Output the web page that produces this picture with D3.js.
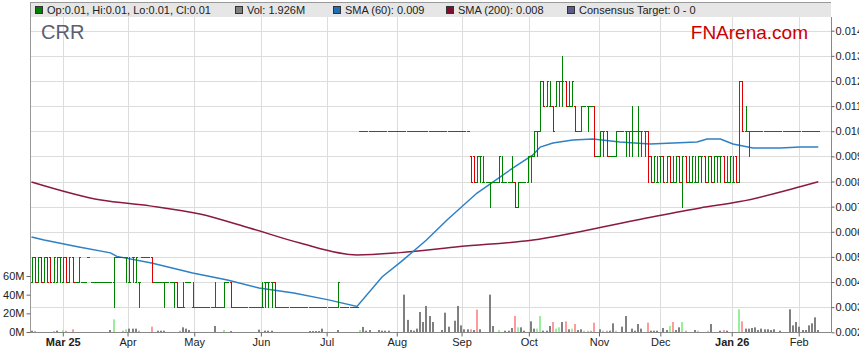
<!DOCTYPE html>
<html>
<head>
<meta charset="utf-8">
<script src="https://cdn.jsdelivr.net/npm/d3@7"></script>
<style>
body { margin: 0; background: #fff; }
text { font-family: Arial, "Liberation Sans", sans-serif; }
</style>
</head>
<body>
<div id="chart"></div>
<script>
// daily bars, one token per trading day: Open High Low Close in 0.001 units (hex digit)
var ohlc = (
  "4545 5544 4545 5544 4545 5544 5544 4545 4545 5545 " +
  "4545 5544 4545 5544 4444 4545 4444 4444 5555 4444 " +
  "4444 4444 4444 4444 4444 4444 4535 5555 5555 5555 " +
  "5545 4544 5545 4545 4434 5555 5555 5555 5544 4444 " +
  "4444 4444 4434 4444 4444 4434 4433 3333 3433 4444 " +
  "4444 3433 3333 3333 3333 3333 3333 3333 3433 3333 " +
  "3333 3434 4444 4433 3333 3333 3333 3333 3333 3333 " +
  "3333 3333 3333 3433 4434 4434 4434 4433 3333 3333 " +
  "3333 3333 3333 3333 3333 3333 3333 3333 3333 3333 " +
  "3333 3333 3333 3333 3333 3333 3333 3434 3333 3333 " +
  "3333 3333 3333 3333 AAAA AAAA AAAA AAAA AAAA AAAA " +
  "AAAA AAAA AAAA AAAA AAAA AAAA AAAA AAAA AAAA AAAA " +
  "AAAA AAAA AAAA AAAA AAAA AAAA AAAA AAAA AAAA AAAA " +
  "AAAA AAAA AAAA AAAA AAAA AAAA AAAA AAAA AAAA 9988 " +
  "9988 8989 9989 8988 8888 8878 8888 8888 8989 8988 " +
  "8888 8888 8988 8877 7878 8888 8888 8989 9989 9A9A " +
  "AA9A ACAC CCBB BCBC BCBB BBAA BCBC CCBC CDBC CCBB " +
  "BCBB BCBC BBAA AAAA ABAB BBBB BBAB BBBB BB99 9999 " +
  "9A9A AA9A AA99 9999 9999 9A9A AAAA AAAA AA9A AA9A " +
  "AB9A AAAA AB9A AA9A AA9A AA89 9988 8989 8988 9989 " +
  "9988 8989 9988 8988 8989 9988 8979 9988 8988 8989 " +
  "8988 8989 9989 9988 8989 9988 8989 9989 9989 9988 " +
  "8988 8989 8988 9988 8C8C CCAA ABAA AA9A AAAA AAAA " +
  "AAAA AAAA AAAA AAAA AAAA AAAA AAAA AAAA AAAA AAAA " +
  "AAAA AAAA AAAA AAAA AAAA AAAA AAAA AAAA AAAA AAAA"
).split(" ");

// volume in millions per day
var volume = [
  1.4,1.1,0,0,0,0,0,1.1,1.4,0,
  2.1,1.4,0,2.9,0,0,0,0,0,0,
  0,0,0,0,0,2.1,13.6,0,0,1.4,
  2.9,3.6,3.6,3.6,1.4,0,0,0,5.7,0,
  1.4,1.4,1.4,0,0,0,0,1.4,5,3.6,
  2.1,0,0,0,0,0,0,0,6.4,0,
  0,2.1,0,1,0,0,0,0,0,0,
  0,0,2.5,0,1.4,1.4,1.4,0,0,0,
  0,0,0,0,0,0,0,0,1,1,
  1,1,3.6,0,0,0,0,2.1,0,0,
  0,0,0,0,2.1,5.4,1.4,2.1,0,0,
  2.1,1.4,1.4,1.4,0,0,0,0,40,13,
  2.1,1.4,3.6,21.4,10.7,27.9,17.1,10.7,0,0,
  2.1,20.7,5.7,0,12.1,27.9,7.1,2.9,2.9,2.9,
  2.1,24,2.9,0,0,40,6.4,0,2.1,0,
  1.4,1.4,4.3,17.1,5,5,1.4,0,11.4,3.6,
  3.6,17.1,1.4,1.4,6.4,10.7,3.6,5,10.7,11.4,
  2.9,3.6,8.6,2.1,2.9,1.4,1.4,1.4,10,0,
  2.9,1.4,1.4,1.4,9.3,1.4,0,5.7,17.1,0,
  3.6,1.4,8.6,3.6,0,10,1.4,1.4,1.4,0,
  4.3,2.1,6.4,10.7,2.1,5,10.7,1.4,0,0,
  2.1,1.4,0,0,1.4,8.6,0,0,1.4,2.1,
  1.4,0,0,0,24.3,11.4,3.6,3.6,4.3,5,
  2.1,3.6,2.9,2.9,2.1,2.9,0,1.4,0,0,
  24.3,7.1,10.7,5.7,2.1,2.1,7.1,9.3,15.7,2.1
];

// volume bar tone per day: g = up, r = down, . = unchanged
var volumeTone = (
  ".r.....g.. gr.r...... ......g..r g...r...r. .......r.. " +
  ".......... .g........ .......... .......... .......... " +
  "....g..... .......... .......... .........r .r......g. " +
  "...rg..... gg...rgg.r .gr..ggrr. .gr..g.... .....r.... " +
  "..gr..gr.. .g..g....r ....gr.... .......... .........."
).replace(/ /g, "");

// moving averages: [day index, value]
var sma60 = [[0,0.00579],[4,0.00567],[15,0.00539],[25,0.00516],[27,0.00502],[38,0.00476],
  [51,0.00436],[62,0.00408],[72,0.00376],[83,0.00356],[94,0.00329],[103,0.00303],
  [111,0.00421],[117,0.00481],[125,0.00567],[131.5,0.00647],[141,0.00754],[152.4,0.00854],
  [158.7,0.00906],[161,0.00937],[165,0.00953],[171.3,0.00965],[177.7,0.00969],[186.2,0.00957],
  [195.7,0.00949],[210.6,0.00957],[213.8,0.00969],[218,0.00969],[222,0.00949],[228.3,0.00933],
  [237,0.00933],[243.2,0.00937],[249,0.00937]];
var sma200 = [[0,0.00798],[22,0.00726],[37.5,0.00703],[53.3,0.00671],[69,0.00615],[85,0.00555],
  [103,0.00508],[116.6,0.00517],[135.6,0.00541],[158.7,0.00567],[191.6,0.00647],[211.6,0.00695],
  [224.2,0.0072],[243.2,0.00779],[249,0.00799]];

var monthIdx = [9.9, 30.4, 51.5, 72.6, 93.4, 115.6, 136.1, 157.4, 179.6, 199, 221.6, 242.8];
var monthLabels = ["Mar 25", "Apr", "May", "Jun", "Jul", "Aug", "Sep", "Oct", "Nov", "Dec", "Jan 26", "Feb"];
var priceTicks = [0.002, 0.003, 0.004, 0.005, 0.006, 0.007, 0.008, 0.009, 0.010, 0.011, 0.012, 0.013, 0.014];
var volTicks = [0, 20, 40, 60];

var legendItems = [
  {label: "Op:0.01, Hi:0.01, Lo:0.01, Cl:0.01", color: "#008000"},
  {label: "Vol: 1.926M", color: "#808080"},
  {label: "SMA (60): 0.009", color: "#1f6fb2"},
  {label: "SMA (200): 0.008", color: "#7d1030"},
  {label: "Consensus Target: 0 - 0", color: "#5b5b8c"}
];
var legendX = [35, 235, 333, 446, 567];

var width = 859, height = 363;
var plot = {left: 31, right: 831, top: 17, bottom: 332};

var svg = d3.select("#chart").append("svg")
    .attr("width", width)
    .attr("height", height);

var x = d3.scaleLinear().domain([0, 249]).range([31.5, 818.3]);
var y = d3.scaleLinear().domain([0.002, 0.014]).range([332.3, 30.7]);
var vy = d3.scaleLinear().domain([0, 60]).range([332, 276]);
var step = x(1) - x(0);

var hexVal = function(ch) { return parseInt(ch, 16) / 1000; };
var bars = ohlc.map(function(t, i) {
    return {i: i, o: hexVal(t[0]), h: hexVal(t[1]), l: hexVal(t[2]), c: hexVal(t[3]),
            v: volume[i], tone: volumeTone[i]};
});

// legend band
svg.append("rect")
    .attr("x", 31).attr("y", 2)
    .attr("width", 800).attr("height", 15)
    .attr("fill", "#e6e6e6");

// grid
var grid = svg.append("g").attr("shape-rendering", "crispEdges");
grid.selectAll(".hg")
    .data(priceTicks.filter(function(d) { return d > 0.0025; }))
    .enter().append("line")
    .attr("x1", plot.left).attr("x2", plot.right)
    .attr("y1", function(d) { return Math.round(y(d)) + 0.5; })
    .attr("y2", function(d) { return Math.round(y(d)) + 0.5; })
    .attr("stroke", "#dcdcdc");
grid.selectAll(".vg")
    .data(monthIdx)
    .enter().append("line")
    .attr("x1", function(d) { return Math.round(x(d)) + 0.5; })
    .attr("x2", function(d) { return Math.round(x(d)) + 0.5; })
    .attr("y1", plot.top).attr("y2", plot.bottom)
    .attr("stroke", "#dcdcdc");

// watermark text
svg.append("text")
    .attr("x", 41).attr("y", 39)
    .attr("font-size", "20px")
    .attr("fill", "#5a5f70")
    .text("CRR");
svg.append("text")
    .attr("x", 808).attr("y", 39)
    .attr("text-anchor", "end")
    .attr("font-size", "19px")
    .attr("fill", "#cc0000")
    .text("FNArena.com");

// volume bars
svg.append("g").selectAll("rect")
    .data(bars.filter(function(d) { return d.v > 0; }))
    .enter().append("rect")
    .attr("x", function(d) { return Math.round(x(d.i)) - 1; })
    .attr("y", function(d) { return vy(d.v); })
    .attr("width", 2)
    .attr("height", function(d) { return 332 - vy(d.v); })
    .attr("fill", function(d) {
        if (d.tone == "g") return "#99ee99";
        if (d.tone == "r") return "#ff9a9a";
        return "#808080";
    });

// moving averages
var maLine = d3.line()
    .x(function(d) { return x(d[0]); })
    .y(function(d) { return y(d[1]); });
svg.append("path").datum(sma200)
    .attr("d", maLine.curve(d3.curveMonotoneX))
    .attr("fill", "none")
    .attr("stroke", "#8a1a40")
    .attr("stroke-width", 1.5);
svg.append("path").datum(sma60)
    .attr("d", maLine.curve(d3.curveLinear))
    .attr("fill", "none")
    .attr("stroke", "#2f80c4")
    .attr("stroke-width", 1.5);

// OHLC bars
svg.append("g").attr("shape-rendering", "crispEdges")
    .selectAll("path")
    .data(bars)
    .enter().append("path")
    .attr("d", function(d) {
        var cx = Math.round(x(d.i)) + 0.5;
        var yo = Math.round(y(d.o)) + 0.5, yc = Math.round(y(d.c)) + 0.5;
        var p = "M" + (cx - step / 2) + "," + yo + "H" + cx +
                "M" + cx + "," + yc + "H" + (cx + step / 2);
        if (d.h > d.l) p += "M" + cx + "," + Math.round(y(d.h)) + "V" + (Math.round(y(d.l)) + 1);
        return p;
    })
    .attr("fill", "none")
    .attr("stroke", function(d) { return d.c < d.o ? "#dd0000" : "#008000"; });

// frame
svg.append("line")
    .attr("x1", 30.5).attr("x2", 30.5).attr("y1", 2).attr("y2", 332.5)
    .attr("stroke", "#999");
svg.append("line")
    .attr("x1", 30.5).attr("x2", 831).attr("y1", 2.5).attr("y2", 2.5)
    .attr("stroke", "#999");
svg.append("line")
    .attr("x1", 30.5).attr("x2", 831).attr("y1", 332.5).attr("y2", 332.5)
    .attr("stroke", "#888");

// axes
var yAxis = d3.axisRight(y).tickValues(priceTicks).tickSize(3).tickPadding(1)
    .tickFormat(d3.format(".3f"));
var gy = svg.append("g").attr("transform", "translate(831.5,0)").call(yAxis);
gy.select(".domain").attr("d", "M0,17V332.5").attr("stroke", "#888");

var vAxis = d3.axisLeft(vy).tickValues(volTicks).tickSize(4).tickPadding(2)
    .tickFormat(function(d) { return d + "M"; });
var gv = svg.append("g").attr("transform", "translate(30.5,0)").call(vAxis);
gv.select(".domain").remove();

var xAxis = d3.axisBottom(x).tickValues(monthIdx).tickSize(4).tickPadding(2)
    .tickFormat(function(d, i) { return monthLabels[i]; });
var gx = svg.append("g").attr("transform", "translate(0,332.5)").call(xAxis);
gx.select(".domain").remove();
gx.selectAll("text")
    .attr("font-weight", function(d, i) { return monthLabels[i].indexOf(" ") > 0 ? "bold" : "normal"; });

[gy, gv, gx].forEach(function(g) {
    g.selectAll(".tick line").attr("stroke", "#666");
    g.selectAll("text").attr("font-size", "11px").attr("fill", "#222")
        .attr("font-family", "Arial, 'Liberation Sans', sans-serif");
});

// legend
var leg = svg.append("g").selectAll("g")
    .data(legendItems)
    .enter().append("g")
    .attr("transform", function(d, i) { return "translate(" + legendX[i] + ",0)"; });
leg.append("rect")
    .attr("x", 0.5).attr("y", 6.5)
    .attr("width", 7).attr("height", 7)
    .attr("fill", function(d) { return d.color; })
    .attr("stroke", "#333");
leg.append("text")
    .attr("x", 12).attr("y", 14)
    .attr("font-size", "11px")
    .attr("fill", "#222")
    .text(function(d) { return d.label; });
</script>
</body>
</html>
